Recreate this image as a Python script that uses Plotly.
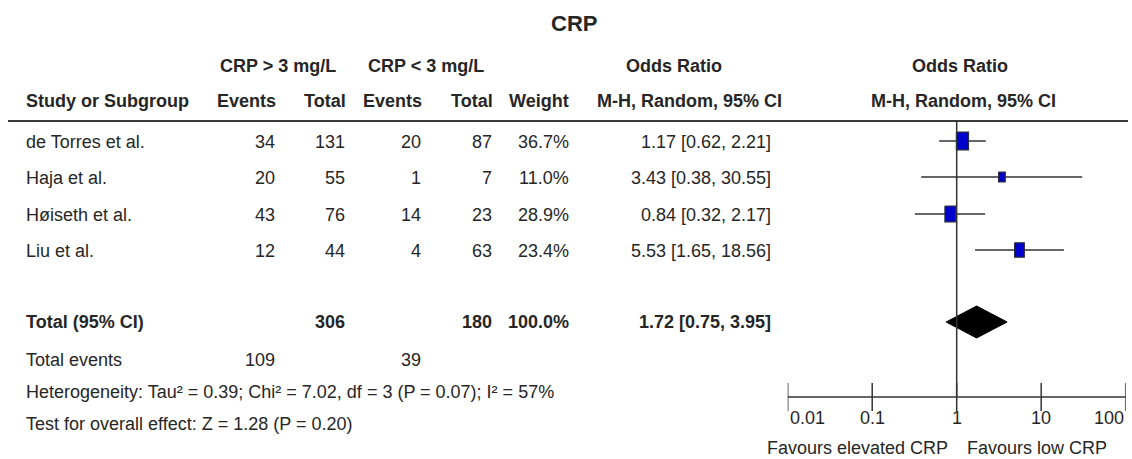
import numpy as np
import plotly.graph_objects as go

# ---------------- data ----------------
studies = ["de Torres et al.", "Haja et al.", "Høiseth et al.", "Liu et al."]
events_high = [34, 20, 43, 12]
total_high = [131, 55, 76, 44]
events_low = [20, 1, 14, 4]
total_low = [87, 7, 23, 63]
weights = [36.7, 11.0, 28.9, 23.4]
odds_ratio = [1.17, 3.43, 0.84, 5.53]
ci_low = [0.62, 0.38, 0.32, 1.65]
ci_high = [2.21, 30.55, 2.17, 18.56]

pooled = [1.72, 0.75, 3.95]          # OR, lower, upper
total_n = [306, 180]                 # CRP > 3, CRP < 3
total_weight = 100.0
total_events = [109, 39]
heterogeneity = "Heterogeneity: Tau² = 0.39; Chi² = 7.02, df = 3 (P = 0.07); I² = 57%"
overall_effect = "Test for overall effect: Z = 1.28 (P = 0.20)"
tick_vals = [0.01, 0.1, 1, 10, 100]
tick_labels = ["0.01", "0.1", "1", "10", "100"]
favours = ["Favours elevated CRP", "Favours low CRP"]

# ---------------- layout constants (pixels) ----------------
W, H = 1132, 459
PLOT_L, PLOT_R = 787.7, 1125.7
PX_PER_UNIT = (PLOT_R - PLOT_L) / 4.0
FONT = "Liberation Sans, Arial, sans-serif"
TXT = "#262626"
LINE = "#333333"
FS = 18

ROW_Y = [141, 177, 214, 250]
TOTAL_Y, EVENTS_Y, HET_Y, TEST_Y = 322, 360, 392, 424
TITLE_Y, HDR1_Y, HDR2_Y, RULE_Y = 23, 66, 101, 121
AXIS_Y, TICKLBL_Y, FAV_Y = 397, 418, 448

# column anchors (right edges unless stated)
X_STUDY = 24
X_EV1, X_TOT1, X_EV2, X_TOT2, X_W, X_OR = 277, 347, 423, 494, 571, 773

ann = []


def txt(s, x, y, anchor="left", bold=False, size=FS, xref="paper"):
    ann.append(dict(
        text=f"<b>{s}</b>" if bold else s,
        x=x / W if xref == "paper" else x, xref=xref,
        y=y, yref="y", xanchor=anchor, yanchor="middle",
        showarrow=False, font=dict(size=size, color=TXT, family=FONT)))


# title and headers
txt("CRP", 573.5, TITLE_Y, "center", True, 22)
txt("CRP &gt; 3 mg/L", 218, HDR1_Y, "left", True)
txt("CRP &lt; 3 mg/L", 366, HDR1_Y, "left", True)
txt("Odds Ratio", 674, HDR1_Y, "center", True)
txt("Odds Ratio", 960, HDR1_Y, "center", True)
txt("Study or Subgroup", X_STUDY, HDR2_Y, "left", True)
txt("Events", X_EV1 + 1, HDR2_Y, "right", True)
txt("Total", X_TOT1 + 1, HDR2_Y, "right", True)
txt("Events", X_EV2 + 1, HDR2_Y, "right", True)
txt("Total", X_TOT2 + 1, HDR2_Y, "right", True)
txt("Weight", X_W, HDR2_Y, "right", True)
txt("M-H, Random, 95% CI", 689, HDR2_Y, "center", True)
txt("M-H, Random, 95% CI", 963, HDR2_Y, "center", True)

# study rows
for i, s in enumerate(studies):
    y = ROW_Y[i] + 1
    txt(s, X_STUDY, y)
    txt(str(events_high[i]), X_EV1, y, "right")
    txt(str(total_high[i]), X_TOT1, y, "right")
    txt(str(events_low[i]), X_EV2, y, "right")
    txt(str(total_low[i]), X_TOT2, y, "right")
    txt(f"{weights[i]:.1f}%", X_W, y, "right")
    txt(f"{odds_ratio[i]:.2f} [{ci_low[i]:.2f}, {ci_high[i]:.2f}]", X_OR, y, "right")

# total rows
txt("Total (95% CI)", X_STUDY, TOTAL_Y, "left", True)
txt(str(total_n[0]), X_TOT1, TOTAL_Y, "right", True)
txt(str(total_n[1]), X_TOT2, TOTAL_Y, "right", True)
txt(f"{total_weight:.1f}%", X_W, TOTAL_Y, "right", True)
txt(f"{pooled[0]:.2f} [{pooled[1]:.2f}, {pooled[2]:.2f}]", X_OR, TOTAL_Y, "right", True)
txt("Total events", X_STUDY, EVENTS_Y)
txt(str(total_events[0]), X_EV1, EVENTS_Y, "right")
txt(str(total_events[1]), X_EV2, EVENTS_Y, "right")
txt(heterogeneity, X_STUDY, HET_Y)
txt(overall_effect, X_STUDY, TEST_Y)

# axis tick labels
lv = np.log10(tick_vals)
for j, (v, lab) in enumerate(zip(lv, tick_labels)):
    anchor = "left" if j == 0 else ("right" if j == len(lv) - 1 else "center")
    txt(lab, v, TICKLBL_Y, anchor, xref="x")
txt(favours[0], -0.08, FAV_Y, "right", xref="x")
txt(favours[1], 0.1, FAV_Y, "left", xref="x")

fig = go.Figure()

# CI lines
cx, cy = [], []
for i in range(len(studies)):
    cx += [np.log10(ci_low[i]), np.log10(ci_high[i]), None]
    cy += [ROW_Y[i], ROW_Y[i], None]
fig.add_trace(go.Scatter(x=cx, y=cy, mode="lines",
                         line=dict(color=LINE, width=1.5), hoverinfo="skip"))

# weight boxes
bx, by = [], []
for i in range(len(studies)):
    c = np.log10(odds_ratio[i])
    hw = 1.0 * np.sqrt(weights[i]) / PX_PER_UNIT
    hh = 1.48 * np.sqrt(weights[i])
    y = ROW_Y[i]
    bx += [c - hw, c + hw, c + hw, c - hw, c - hw, None]
    by += [y - hh, y - hh, y + hh, y + hh, y - hh, None]
fig.add_trace(go.Scatter(x=bx, y=by, mode="lines", fill="toself",
                         fillcolor="#0000CC", line=dict(color="#2b2b40", width=1.2),
                         hoverinfo="skip"))

# pooled diamond
lo, c, hi = np.log10(pooled[1]), np.log10(pooled[0]), np.log10(pooled[2])
fig.add_trace(go.Scatter(x=[lo, c, hi, c, lo], y=[TOTAL_Y, TOTAL_Y - 16, TOTAL_Y, TOTAL_Y + 16, TOTAL_Y],
                         mode="lines", fill="toself", fillcolor="black",
                         line=dict(color="black", width=1), hoverinfo="skip"))

# axis line and ticks
fig.add_trace(go.Scatter(x=[lv[0], lv[-1]], y=[AXIS_Y, AXIS_Y], mode="lines",
                         line=dict(color=LINE, width=1.5), hoverinfo="skip"))
fig.add_trace(go.Scatter(x=lv, y=[AXIS_Y] * len(lv), mode="markers",
                         marker=dict(symbol="line-ns", size=20,
                                     line=dict(color=LINE, width=1.5)),
                         hoverinfo="skip"))

shapes = [
    # header rule
    dict(type="line", xref="paper", yref="y", x0=8 / W, x1=1128 / W,
         y0=RULE_Y, y1=RULE_Y, line=dict(color="#3a3a3a", width=2)),
    # line of no effect
    dict(type="line", xref="x", yref="y", x0=0, x1=0, y0=RULE_Y, y1=AXIS_Y,
         line=dict(color=LINE, width=1.5)),
]

fig.update_layout(
    width=W, height=H, margin=dict(l=0, r=0, t=0, b=0),
    paper_bgcolor="white", plot_bgcolor="white",
    showlegend=False, hovermode=False,
    xaxis=dict(domain=[PLOT_L / W, PLOT_R / W], range=[-2, 2], visible=False,
               fixedrange=True),
    yaxis=dict(domain=[0, 1], range=[H, 0], visible=False, fixedrange=True),
    annotations=ann, shapes=shapes,
)

fig.write_html(
    "out.html",
    config={"displayModeBar": False, "staticPlot": True},
    post_script="document.body.style.margin='0px';document.body.style.overflow='hidden';",
)
